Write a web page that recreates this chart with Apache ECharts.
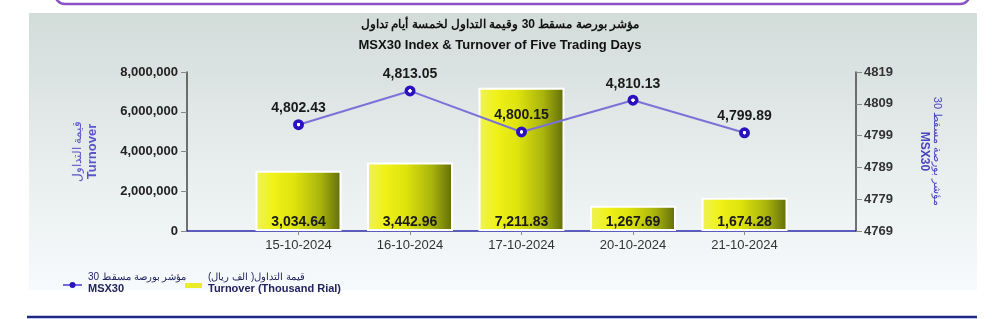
<!DOCTYPE html>
<html>
<head>
<meta charset="utf-8">
<script src="https://cdn.jsdelivr.net/npm/echarts@6/dist/echarts.min.js"></script>
<style>
html,body{margin:0;padding:0;background:#fff;}
#c{width:1000px;height:319px;}
</style>
</head>
<body>
<div id="c"></div>
<script>
const dates = ['15-10-2024', '16-10-2024', '17-10-2024', '20-10-2024', '21-10-2024'];
const turnover = [3034640, 3442960, 7211830, 1267690, 1674280];
const msx30 = [4802.43, 4813.05, 4800.15, 4810.13, 4799.89];
const leftTicks = [0, 2000000, 4000000, 6000000, 8000000];
const rightTicks = [4769, 4779, 4789, 4799, 4809, 4819];

const cats = [''].concat(dates, ['']);
const barData = [null].concat(turnover, [null]);
const lineData = [null].concat(msx30, [null]);

function fmt(v, d) {
  return v.toLocaleString('en-US', {minimumFractionDigits: d, maximumFractionDigits: d});
}

const chart = echarts.init(document.getElementById('c'), null, {renderer: 'canvas'});
const font = 'Liberation Sans, Arial, sans-serif';
const legendColor = '#23235e';
const markerBlue = '#2a12c0';

chart.setOption({
  animation: false,
  textStyle: {fontFamily: font},
  graphic: [
    {type: 'rect', z: -10, shape: {x: 29, y: 13, width: 948, height: 277},
     style: {fill: new echarts.graphic.LinearGradient(0, 0, 0, 1, [
       {offset: 0, color: '#d2dcd9'}, {offset: 0.5, color: '#e6ecec'}, {offset: 1, color: '#f7fafc'}])}},
    {type: 'rect', z: -10, shape: {x: 55, y: -30, width: 915, height: 34, r: 10},
     style: {fill: 'none', stroke: '#8a52c8', lineWidth: 2.5}},
    {type: 'line', z: -10, shape: {x1: 27, y1: 317, x2: 977, y2: 317},
     style: {stroke: '#1e2a88', lineWidth: 2.5}},
    // legend
    {type: 'line', shape: {x1: 63, y1: 285, x2: 82, y2: 285}, style: {stroke: '#4a3ad0', lineWidth: 1.5}},
    {type: 'circle', shape: {cx: 72.5, cy: 285, r: 3}, style: {fill: markerBlue}},
    {type: 'text', left: 88, top: 272, style: {text: 'مؤشر بورصة مسقط 30', fill: legendColor, font: '10px ' + font}},
    {type: 'text', left: 88, top: 283, style: {text: 'MSX30', fill: legendColor, font: 'bold 11px ' + font}},
    {type: 'rect', shape: {x: 185, y: 283, width: 17, height: 5}, style: {fill: '#e8ec2a'}},
    {type: 'text', left: 208, top: 272, style: {text: 'قيمة التداول( الف ريال)', fill: legendColor, font: '10px ' + font}},
    {type: 'text', left: 208, top: 283, style: {text: 'Turnover (Thousand Rial)', fill: legendColor, font: 'bold 11px ' + font}}
  ],
  title: {
    left: 'center', top: 9,
    text: '{ar|مؤشر بورصة مسقط 30 وقيمة التداول لخمسة أيام تداول}\n{en|MSX30 Index & Turnover of Five Trading Days}',
    textStyle: {
      rich: {
        ar: {fontSize: 12, fontWeight: 'bold', color: '#111', lineHeight: 21, fontFamily: font},
        en: {fontSize: 13, fontWeight: 'bold', color: '#111', lineHeight: 21, fontFamily: font}
      }
    }
  },
  grid: {left: 187, right: 144, top: 72, bottom: 88},
  xAxis: {
    type: 'category', data: cats, boundaryGap: false,
    axisLine: {lineStyle: {color: '#2a2aa8', width: 1.5}},
    axisTick: {show: true, length: 4, lineStyle: {color: '#888'},
      interval: function (i) { return i > 0 && i < cats.length - 1; }},
    axisLabel: {color: '#333', fontSize: 13, margin: 8, fontFamily: font, interval: 0},
    splitLine: {show: false}
  },
  yAxis: [
    {
      type: 'value', min: leftTicks[0], max: leftTicks[leftTicks.length - 1],
      interval: leftTicks[1] - leftTicks[0],
      name: '{ar|قيمة التداول}\n{en|Turnover}', nameLocation: 'middle', nameRotate: 90, nameGap: 87,
      nameTextStyle: {
        rich: {
          ar: {color: '#5a55c8', fontSize: 12, lineHeight: 15, fontFamily: font},
          en: {color: '#5a55c8', fontSize: 13, fontWeight: 'bold', lineHeight: 15, fontFamily: font}
        }
      },
      axisLine: {show: true, lineStyle: {color: '#444', width: 1.5}},
      axisTick: {show: true, length: 6, lineStyle: {color: '#888'}},
      axisLabel: {color: '#222', fontSize: 13, fontWeight: 'bold', margin: 9, fontFamily: font,
        formatter: function (v) { return fmt(v, 0); }},
      splitLine: {show: false}
    },
    {
      type: 'value', min: rightTicks[0], max: rightTicks[rightTicks.length - 1],
      interval: rightTicks[1] - rightTicks[0],
      name: '{ar|مؤشر بورصة مسقط 30}\n{en|MSX30}', nameLocation: 'middle', nameRotate: -90, nameGap: 62,
      nameTextStyle: {
        rich: {
          ar: {color: '#4a45c0', fontSize: 11, lineHeight: 13, fontFamily: font},
          en: {color: '#4a45c0', fontSize: 12, fontWeight: 'bold', lineHeight: 13, fontFamily: font}
        }
      },
      axisLine: {show: true, lineStyle: {color: '#444', width: 1.5}},
      axisTick: {show: true, length: 6, lineStyle: {color: '#888'}},
      axisLabel: {color: '#333', fontSize: 13, fontWeight: 'bold', margin: 8, fontFamily: font,
        formatter: function (v) { return String(Math.round(v)); }},
      splitLine: {show: false}
    }
  ],
  series: [
    {
      name: 'Turnover', type: 'bar', yAxisIndex: 0, data: barData, barWidth: 86,
      itemStyle: {
        color: new echarts.graphic.LinearGradient(0, 0, 1, 0, [
          {offset: 0, color: '#eef25a'}, {offset: 0.2, color: '#f0f21a'}, {offset: 0.45, color: '#dfe40c'},
          {offset: 0.75, color: '#aab50c'}, {offset: 1, color: '#5f6c08'}]),
        borderColor: '#ffffff', borderWidth: 2
      },
      label: {show: true, position: 'insideBottom', distance: 2, color: '#1a1a1a', fontSize: 14,
        fontWeight: 'bold', fontFamily: font,
        formatter: function (p) { return fmt(p.value / 1000, 2); }}
    },
    {
      name: 'MSX30', type: 'line', yAxisIndex: 1, data: lineData, z: 5,
      symbol: 'circle', symbolSize: 11, connectNulls: false,
      lineStyle: {color: '#7a72d8', width: 2},
      itemStyle: {
        color: new echarts.graphic.RadialGradient(0.5, 0.5, 0.5, [
          {offset: 0, color: '#ffffff'}, {offset: 0.28, color: '#ffffff'},
          {offset: 0.36, color: markerBlue}, {offset: 1, color: markerBlue}]),
        borderWidth: 0
      },
      label: {show: true, position: 'top', distance: 4, color: '#1a1a1a', fontSize: 14,
        fontWeight: 'bold', fontFamily: font,
        formatter: function (p) { return fmt(p.value, 2); }}
    }
  ]
});
</script>
</body>
</html>
